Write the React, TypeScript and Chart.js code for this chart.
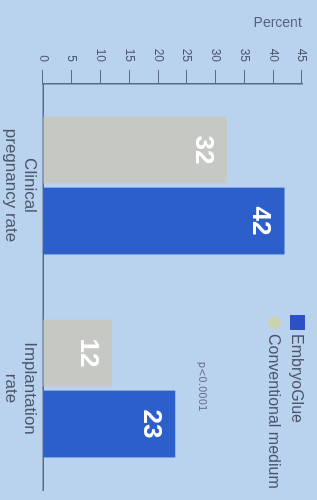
import React, { useEffect, useRef } from 'react';
import { Chart, registerables } from 'chart.js';

Chart.register(...registerables);

const categories: string[][] = [['Clinical', 'pregnancy rate'], ['Implantation', 'rate']];
const conventionalValues = [32, 12];
const embryoGlueValues = [42, 23];
const seriesNames = ['Conventional medium', 'EmbryoGlue'];
const legendOrder = ['EmbryoGlue', 'Conventional medium'];
const yMin = 0;
const yMax = 45;
const yStep = 5;
const axisTitle = 'Percent';
const noteText = 'p<0.0001';
const noteCategory = 1;
const noteValue = 27.5;

const BG = '#b9d2ee';
const BLUE = '#2c5fc9';
const GREY = '#c5c8c3';
const GREY_MARK = '#c9d3b0';
const AXIS = '#5b6a85';
const TEXT = '#4c566b';
const FONT = "'Liberation Sans', Arial, sans-serif";

const valueLabels = {
  id: 'valueLabels',
  afterDatasetsDraw(chart: any) {
    const ctx = chart.ctx;
    ctx.save();
    ctx.fillStyle = '#ffffff';
    ctx.font = `bold 26px ${FONT}`;
    ctx.textAlign = 'center';
    ctx.textBaseline = 'top';
    chart.data.datasets.forEach((ds: any, i: number) => {
      const meta = chart.getDatasetMeta(i);
      meta.data.forEach((el: any, j: number) => {
        ctx.fillText(String(ds.data[j]), el.x, el.y + 11);
      });
    });
    ctx.restore();
  },
};

const customLegend = {
  id: 'customLegend',
  afterDraw(chart: any) {
    const ctx = chart.ctx;
    ctx.save();
    ctx.font = `16px ${FONT}`;
    ctx.textBaseline = 'middle';
    ctx.textAlign = 'left';
    const x0 = 315;
    const rows = [19.5, 42.5];
    legendOrder.forEach((name, k) => {
      const ds = chart.data.datasets.find((d: any) => d.label === name);
      if (!ds) return;
      const cy = rows[k];
      if (ds.legendShape === 'circle') {
        ctx.fillStyle = ds.legendColor;
        ctx.beginPath();
        ctx.arc(x0 + 7.5, cy, 6.5, 0, Math.PI * 2);
        ctx.fill();
      } else {
        ctx.fillStyle = ds.legendColor;
        ctx.fillRect(x0, cy - 7.5, 15, 15);
      }
      ctx.fillStyle = TEXT;
      ctx.fillText(name, x0 + 19, cy + 1);
    });
    ctx.restore();
  },
};

const notePlugin = {
  id: 'notePlugin',
  afterDraw(chart: any) {
    const ctx = chart.ctx;
    const x = chart.scales.x.getPixelForValue(noteCategory);
    const y = chart.scales.y.getPixelForValue(noteValue);
    ctx.save();
    ctx.font = `10px 'DejaVu Sans', sans-serif`;
    ctx.fillStyle = '#66708a';
    ctx.textAlign = 'center';
    ctx.textBaseline = 'middle';
    ctx.fillText(noteText, x - 2, y);
    ctx.restore();
  },
};

export default function App() {
  const canvasRef = useRef<HTMLCanvasElement | null>(null);

  useEffect(() => {
    const canvas = canvasRef.current;
    if (!canvas) return;
    Chart.defaults.font.family = FONT;
    const chart = new Chart(canvas, {
      type: 'bar',
      data: {
        labels: categories as any,
        datasets: [
          {
            label: seriesNames[0],
            data: conventionalValues,
            backgroundColor: GREY,
            borderWidth: 0,
            legendColor: GREY_MARK,
            legendShape: 'circle',
          } as any,
          {
            label: seriesNames[1],
            data: embryoGlueValues,
            backgroundColor: BLUE,
            borderWidth: 0,
            legendColor: '#2f4fc4',
            legendShape: 'square',
          } as any,
        ],
      },
      options: {
        responsive: false,
        animation: false,
        devicePixelRatio: 1,
        layout: { padding: { top: 15, right: 10, left: 0, bottom: 0 } },
        datasets: {
          bar: { categoryPercentage: 0.7, barPercentage: 0.94 },
        },
        plugins: {
          legend: { display: false },
          tooltip: { enabled: false },
        },
        scales: {
          x: {
            grid: { display: false, drawTicks: false },
            border: { display: true, color: AXIS, width: 1.5 },
            ticks: {
              color: TEXT,
              font: { size: 17, lineHeight: 1.12 },
              padding: 4,
              maxRotation: 0,
              autoSkip: false,
            },
            afterFit(scale: any) {
              scale.height = 43;
            },
          },
          y: {
            min: yMin,
            max: yMax,
            grid: {
              drawOnChartArea: false,
              drawTicks: true,
              tickLength: 14,
              color: AXIS,
              lineWidth: 1,
            },
            border: { display: true, color: AXIS, width: 1.5 },
            ticks: {
              stepSize: yStep,
              color: TEXT,
              font: { size: 12 },
              padding: 8,
            },
            title: {
              display: true,
              text: axisTitle,
              align: 'end',
              color: '#58627a',
              font: { size: 14 },
              padding: { top: 15, bottom: 0 },
            },
            afterFit(scale: any) {
              scale.width = 84;
            },
          },
        },
      } as any,
      plugins: [valueLabels, customLegend, notePlugin],
    });
    return () => chart.destroy();
  }, []);

  return (
    <div
      style={{
        position: 'fixed',
        left: 0,
        top: 0,
        width: 317,
        height: 500,
        background: BG,
        overflow: 'hidden',
      }}
    >
      <div
        style={{
          position: 'absolute',
          left: 0,
          top: 0,
          width: 500,
          height: 317,
          transformOrigin: '0 0',
          transform: 'translateX(317px) rotate(90deg)',
        }}
      >
        <canvas ref={canvasRef} width={500} height={317} style={{ display: 'block' }} />
      </div>
    </div>
  );
}
